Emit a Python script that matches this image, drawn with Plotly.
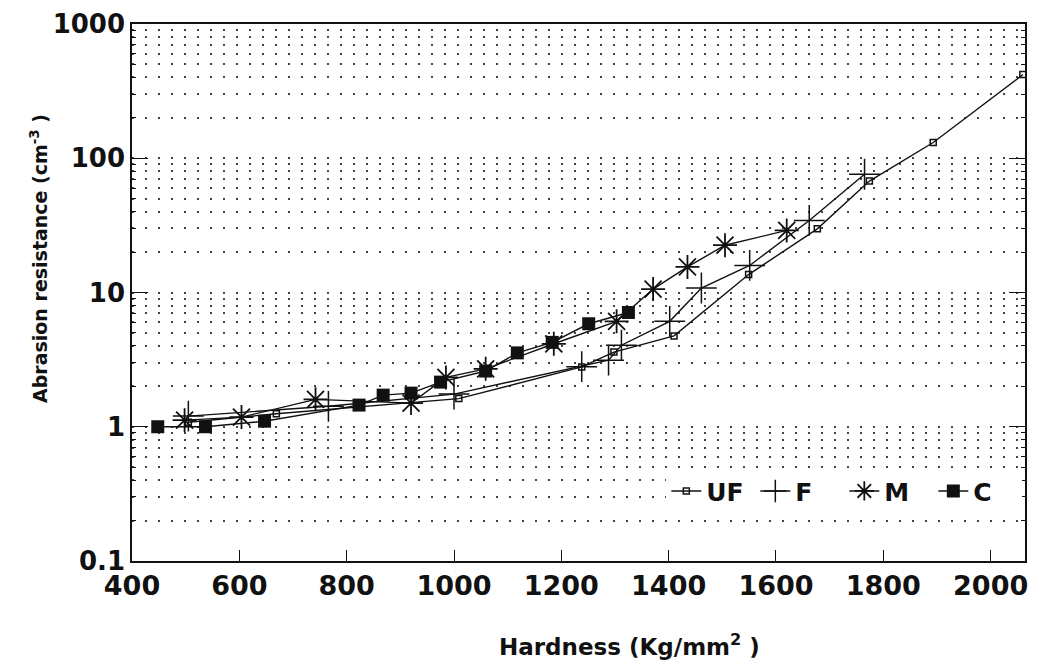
import plotly.graph_objects as go

# ---- data ----
uf_x = [505, 669, 1009, 1238, 1298, 1410, 1549, 1677, 1774, 1893, 2060]
uf_y = [1.08, 1.25, 1.62, 2.79, 3.6, 4.75, 13.6, 29.8, 67.6, 131, 420]

f_x = [505, 766, 1000, 1238, 1288, 1312, 1402, 1461, 1551, 1662, 1765]
f_y = [1.2, 1.42, 1.75, 2.8, 3.13, 4.05, 6.1, 10.8, 15.9, 34.4, 76]

m_x = [498, 604, 742, 920, 985, 1059, 1186, 1303, 1371, 1435, 1505, 1620]
m_y = [1.12, 1.18, 1.6, 1.5, 2.33, 2.7, 4.15, 6.1, 10.6, 15.5, 22.5, 29]

c_x = [448, 537, 647, 823, 868, 920, 975, 1059, 1118, 1183, 1251, 1325]
c_y = [1.0, 1.0, 1.1, 1.45, 1.72, 1.78, 2.15, 2.6, 3.55, 4.25, 5.85, 7.1]

y_tickvals = [0.1, 1, 10, 100, 1000]
y_ticktext = ["0.1", "1", "10", "100", "1000"]
x_tickvals = [400, 600, 800, 1000, 1200, 1400, 1600, 1800, 2000]

x_title = "Hardness (Kg/mm<sup>2</sup> )"
y_title = "Abrasion resistance (cm<sup>-3</sup> )"

FONT = "DejaVu Sans"
BLACK = "#111111"

fig = go.Figure()
line = dict(color=BLACK, width=1.4)
fig.add_trace(go.Scatter(x=uf_x, y=uf_y, name="UF", mode="lines+markers", line=line,
                         marker=dict(symbol="square-open", size=6, color=BLACK, line=dict(width=1.5))))
fig.add_trace(go.Scatter(x=f_x, y=f_y, name="F", mode="lines+markers", line=line,
                         marker=dict(symbol="cross-thin-open", size=22, color=BLACK, line=dict(width=1.5, color=BLACK))))
fig.add_trace(go.Scatter(x=m_x, y=m_y, name="M", mode="lines+markers", line=line,
                         marker=dict(symbol="asterisk-open", size=20, color=BLACK, line=dict(width=1.8, color=BLACK))))
fig.add_trace(go.Scatter(x=c_x, y=c_y, name="C", mode="lines+markers", line=line,
                         marker=dict(symbol="square", size=13, color=BLACK)))

fig.update_layout(
    width=1037, height=664,
    margin=dict(l=132, r=9, t=21, b=103),
    paper_bgcolor="white", plot_bgcolor="white",
    font=dict(family=FONT, color=BLACK),
    showlegend=True,
    legend=dict(orientation="h", x=0.997, xanchor="right", y=0.13, yanchor="middle",
                bgcolor="white", font=dict(family=FONT, size=25, weight="bold"),
                entrywidth=44, entrywidthmode="pixels", tracegroupgap=0),
    annotations=[
        dict(text=x_title, xref="paper", yref="paper", x=0.557, y=-(645 - 561) / 540,
             xanchor="center", yanchor="middle", showarrow=False,
             font=dict(family=FONT, size=23, weight="bold", color=BLACK)),
        dict(text=y_title, xref="paper", yref="paper", x=(38 - 132) / 896, y=(561 - 257) / 540,
             xanchor="center", yanchor="middle", showarrow=False, textangle=-90,
             font=dict(family=FONT, size=19, weight="bold", color=BLACK)),
    ],
)

fig.update_xaxes(
    range=[400, 2064], tickvals=x_tickvals,
    ticks="inside", ticklen=11, tickwidth=1.2, tickcolor=BLACK,
    showline=True, linecolor=BLACK, linewidth=1.5, mirror=True,
    showgrid=False, zeroline=False,
    tickfont=dict(family=FONT, size=27, weight="bold"),
)

fig.update_yaxes(
    type="log", range=[-1, 3], tickvals=y_tickvals, ticktext=y_ticktext,
    ticks="inside", ticklen=16, tickwidth=1.2, tickcolor=BLACK,
    showline=True, linecolor=BLACK, linewidth=1.5, mirror="ticks",
    showgrid=True, gridcolor="#444444", gridwidth=1.5, griddash="2px,11px",
    minor=dict(dtick="D1", ticks="inside", ticklen=4, tickcolor=BLACK,
               showgrid=True, gridcolor="#444444", gridwidth=1.5, griddash="2px,11px"),
    zeroline=False,
    tickfont=dict(family=FONT, size=26, weight="bold"),
)

fig.write_html("out.html")
